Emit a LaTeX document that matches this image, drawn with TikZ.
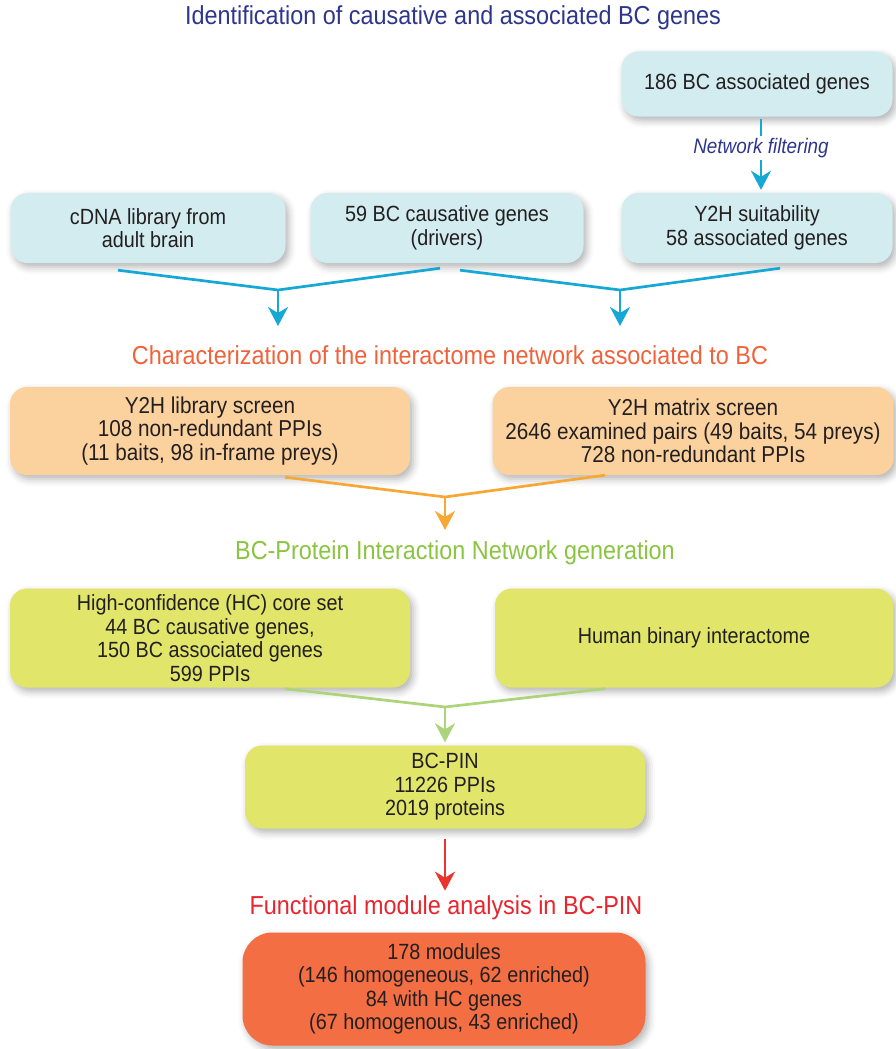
\documentclass[tikz,border=0pt]{standalone}
\usepackage{fontspec}
\setmainfont{Liberation Sans}[FakeStretch=0.9]
\usetikzlibrary{arrows.meta,shadows.blur}

\definecolor{headblue}{RGB}{46,54,140}
\definecolor{headorange}{RGB}{240,98,58}
\definecolor{headgreen}{RGB}{138,196,64}
\definecolor{headred}{RGB}{232,36,44}
\definecolor{boxtext}{RGB}{35,31,32}
\definecolor{cyanfill}{RGB}{210,236,240}
\definecolor{cyanline}{RGB}{22,168,212}
\definecolor{peachfill}{RGB}{251,210,158}
\definecolor{orangeline}{RGB}{247,168,52}
\definecolor{limefill}{RGB}{225,230,106}
\definecolor{greenline}{RGB}{172,212,122}
\definecolor{redline}{RGB}{234,52,46}
\definecolor{modfill}{RGB}{243,110,66}

\tikzset{
  head/.style={font=\fontsize{26}{30}\selectfont, inner sep=3pt},
  box/.style={rounded corners=17pt, align=center, text=boxtext, inner sep=0pt,
    font=\fontsize{22}{23.5}\selectfont,
    blur shadow={shadow xshift=3pt, shadow yshift=-4pt, shadow blur radius=7pt,
      shadow opacity=30}},
  cyanbox/.style={box, fill=cyanfill},
  peachbox/.style={box, fill=peachfill, font=\fontsize{23}{23.5}\selectfont},
  limebox/.style={box, fill=limefill},
  modbox/.style={box, fill=modfill, rounded corners=30pt},
  link/.style={line width=2.7pt},
  tip/.style={link, -{Stealth[length=19pt,width=20pt,inset=6pt]}},
}

\begin{document}
\begin{tikzpicture}[x=1pt,y=-1pt]
\useasboundingbox (0,0) rectangle (896,1049);

% section titles
\node[head, text=headblue] (t1) at (453,18) {Identification of causative and associated BC genes};
\node[head, text=headorange] (t2) at (450,355) {Characterization of the interactome network associated to BC};
\node[head, text=headgreen] (t3) at (455,553) {BC-Protein Interaction Network generation};
\node[head, text=headred] (t4) at (446,908) {Functional module analysis in BC-PIN};

% gene sources
\node[cyanbox, minimum width=271pt, minimum height=65pt] (assoc) at (757,84) {186 BC associated genes};
\node[font=\fontsize{21}{24}\selectfont\itshape, text=headblue, inner sep=2pt] (filt) at (761,148) {Network filtering};
\node[cyanbox, minimum width=275pt, minimum height=70pt] (cdna) at (148,228) {cDNA library from\\adult brain};
\node[cyanbox, minimum width=273pt, minimum height=70pt] (causal) at (447,228) {59 BC causative genes\\(drivers)};
\node[cyanbox, minimum width=271pt, minimum height=70pt] (suit) at (757,228) {Y2H suitability\\58 associated genes};

\draw[link, cyanline, shorten <=2pt] (filt.north |- assoc.south) -- (filt.north);
\draw[tip, cyanline, shorten >=3pt] (filt.south) -- (filt.south |- suit.north);

\coordinate (j1) at (278,290);
\coordinate (e1) at (278,326);
\coordinate (j2) at (620,290);
\coordinate (e2) at (620,326);
\draw[link, cyanline] ([shift={(-30,7)}]cdna.south) -- (j1) -- ([shift={(-7,5)}]causal.south);
\draw[link, cyanline] ([shift={(13,7)}]causal.south) -- (j2) -- ([shift={(23,5)}]suit.south);
\draw[tip, cyanline] (j1) -- (e1);
\draw[tip, cyanline] (j2) -- (e2);

% Y2H screens
\node[peachbox, minimum width=400pt, minimum height=88pt] (libscr) at (210,431) {Y2H library screen\\108 non-redundant PPIs\\(11 baits, 98 in-frame preys)};
\node[peachbox, minimum width=401pt, minimum height=88pt] (matscr) at (693,431) {Y2H matrix screen\\2646 examined pairs (49 baits, 54 preys)\\728 non-redundant PPIs};

\coordinate (j3) at (445,497);
\coordinate (e3) at (445,530);
\draw[link, orangeline] ([shift={(75,2)}]libscr.south) -- (j3) -- ([shift={(-88,0)}]matscr.south);
\draw[tip, orangeline] (j3) -- (e3);

% network generation
\node[limebox, minimum width=400pt, minimum height=99pt] (hcset) at (210,638) {High-confidence (HC) core set\\44 BC causative genes,\\150 BC associated genes\\599 PPIs};
\node[limebox, minimum width=398pt, minimum height=99pt] (human) at (694,638) {Human binary interactome};
\node[limebox, minimum width=400pt, minimum height=83pt] (bcpin) at (445,787) {BC-PIN\\11226 PPIs\\2019 proteins};

\coordinate (j4) at (445,707);
\draw[link, greenline] ([shift={(75,1)}]hcset.south) -- (j4) -- ([shift={(-89,1)}]human.south);
\draw[tip, greenline, shorten >=3pt] (j4) -- (bcpin.north);

\draw[tip, redline, shorten <=10pt, shorten >=2pt] (bcpin.south) -- (bcpin.south |- t4.north);

% modules
\node[modbox, minimum width=403pt, minimum height=113pt] (modules) at (444,989) {178 modules\\(146 homogeneous, 62 enriched)\\84 with HC genes\\(67 homogenous, 43 enriched)};
\end{tikzpicture}
\end{document}
